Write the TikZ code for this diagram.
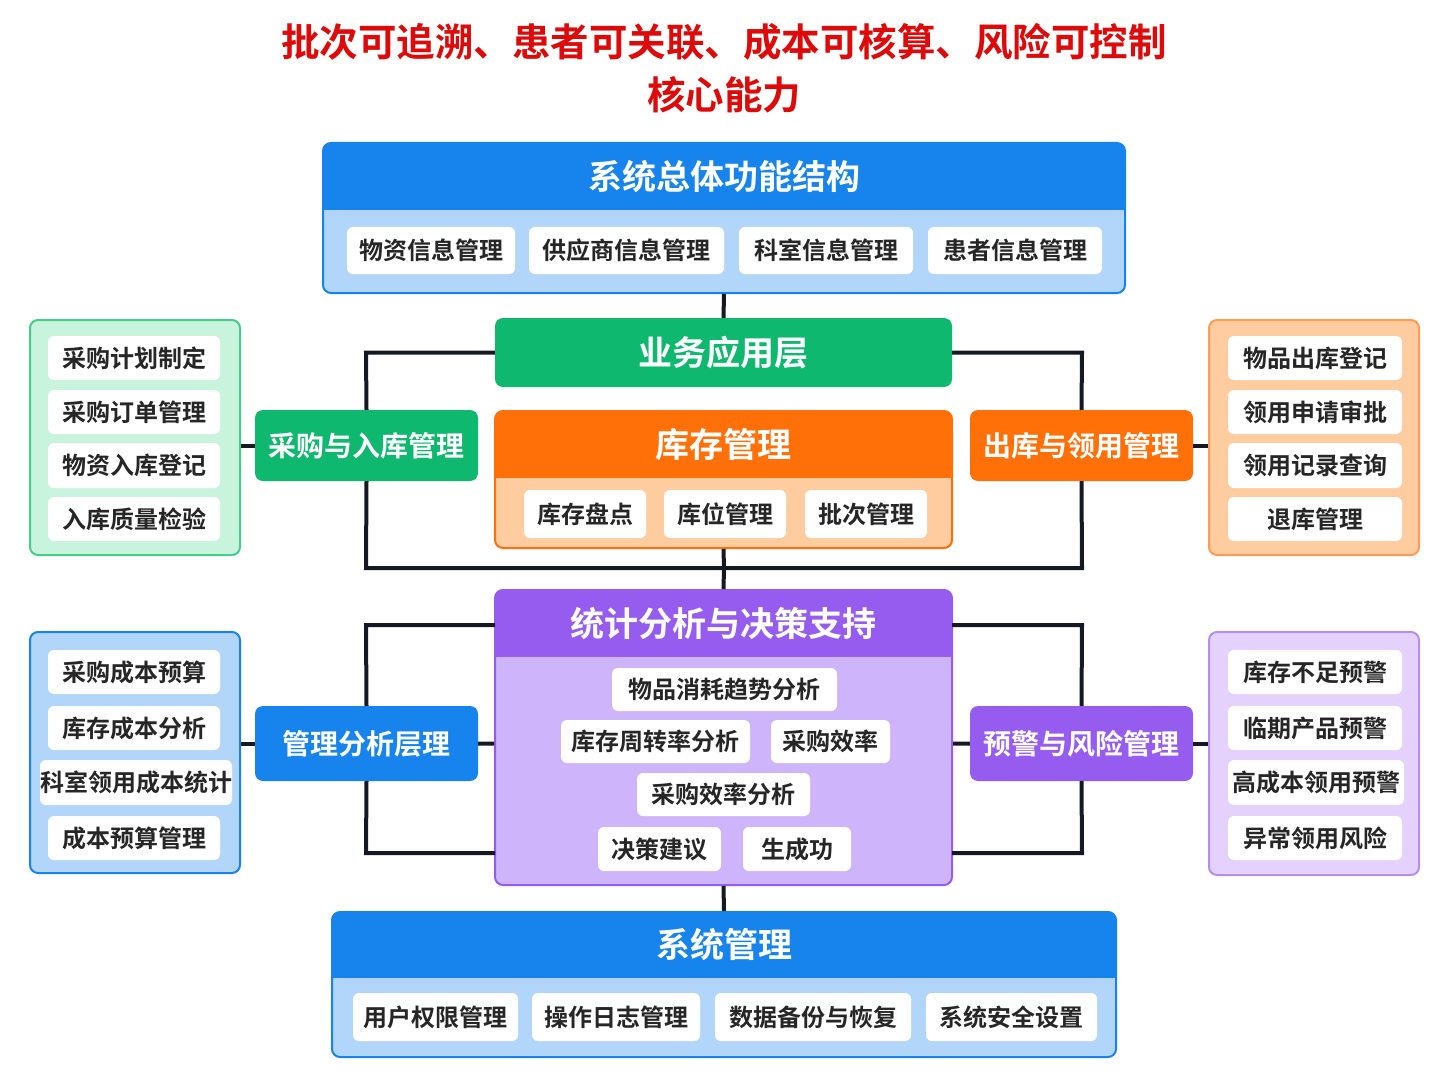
\documentclass[tikz,border=0pt]{standalone}
\usepackage{fontspec}
\setmainfont{Noto Sans CJK SC}[BoldFont={Noto Sans CJK SC Bold}]
\definecolor{tred}{RGB}{222,10,10}
\definecolor{bD}{RGB}{22,132,236}\definecolor{bL}{RGB}{178,214,250}
\definecolor{gD}{RGB}{14,184,110}\definecolor{gL}{RGB}{200,244,222}\definecolor{gB}{RGB}{70,205,140}
\definecolor{oD}{RGB}{255,112,8}\definecolor{oL}{RGB}{255,204,160}
\definecolor{pD}{RGB}{150,92,240}\definecolor{pL}{RGB}{206,180,250}\definecolor{pLL}{RGB}{228,210,252}
\definecolor{lineK}{RGB}{20,25,35}
\newcommand\panel[9]{%
 \begin{scope}\clip[rounded corners=8] (#2,#3) rectangle (#4,#5);
 \fill[#8] (#2,#3) rectangle (#4,#5);
 \fill[#7] (#2,#3) rectangle (#4,#6);\end{scope}
 \node[draw=#7,line width=2,rounded corners=8,minimum width={#4-#2},minimum height={#5-#3},inner sep=0] (#1) at ({(#2+#4)/2},{(#3+#5)/2}) {};
 \node[hd] (#1h) at ({(#2+#4)/2},{(#3+#6)/2}) {#9};}
\newcommand\cell[6]{\node[cell,minimum width={#4-#2},minimum height={#5-#3}] (#1) at ({(#2+#4)/2},{(#3+#5)/2}) {#6};}
\newcommand\lab[7]{\node[lab,fill=#6,minimum width={#4-#2},minimum height={#5-#3}] (#1) at ({(#2+#4)/2},{(#3+#5)/2}) {#7};}
\newcommand\lst[7]{\node[draw=#6,line width=2,fill=#7,rounded corners=8,minimum width={#4-#2},minimum height={#5-#3},inner sep=0] (#1) at ({(#2+#4)/2},{(#3+#5)/2}) {};}
\begin{document}
\begin{tikzpicture}[x=1pt,y=-1pt,
 hd/.style={text=white,font=\bfseries\fontsize{34}{36}\selectfont},
 cell/.style={fill=white,rounded corners=6,inner sep=0,font=\bfseries\fontsize{24}{26}\selectfont,text=black!85},
 lab/.style={rounded corners=8,inner sep=0,text=white,font=\bfseries\fontsize{28}{30}\selectfont},
 conn/.style={draw=lineK,line width=4}]
\useasboundingbox (0,0) rectangle (1448,1086);
\node[text=tred,font=\bfseries\fontsize{38.5}{40}\selectfont] (t1) at (724,42) {批次可追溯、患者可关联、成本可核算、风险可控制};
\node[text=tred,font=\bfseries\fontsize{38.5}{40}\selectfont] (t2) at (724,95) {核心能力};
\coordinate (a1) at (366,352.5);\coordinate (a2) at (366,568);\coordinate (a3) at (1082,568);\coordinate (a4) at (1082,352.5);
\coordinate (b1) at (366,625);\coordinate (b2) at (366,853);\coordinate (b3) at (1082,853);\coordinate (b4) at (1082,625);
\coordinate (c1) at (495,625);\coordinate (c2) at (495,853);\coordinate (c3) at (952,853);\coordinate (c4) at (952,625);
\coordinate (m1) at (724,568);
\panel{top}{323}{143}{1125}{293}{210}{bD}{bL}{系统总体功能结构}
\panel{inv}{495}{411}{952}{548}{478}{oD}{oL}{库存管理}
\panel{sta}{495}{590}{952}{885}{657}{pD}{pL}{统计分析与决策支持}
\panel{sys}{332}{912}{1116}{1057}{978}{bD}{bL}{系统管理}
\node[fill=gD,rounded corners=8,minimum width=457,minimum height=69,inner sep=0,hd] (biz) at (723.5,352.5) {业务应用层};
\lab{plab}{255}{410}{478}{481}{gD}{采购与入库管理}
\lab{olab}{970}{410}{1193}{481}{oD}{出库与领用管理}
\lab{mlab}{255}{706}{478}{781}{bD}{管理分析层理}
\lab{wlab}{970}{706}{1193}{781}{pD}{预警与风险管理}
\path[conn] (top.south) -- (biz.north);
\path[conn] (biz.west) -- (a1) -- (plab.north) (plab.south) -- (a2) -- (a3) -- (olab.south) (olab.north) -- (a4) -- (biz.east);
\path[conn] (inv.south) -- (m1) -- (sta.north);
\path[conn] (c1) -- (b1) -- (mlab.north) (mlab.south) -- (b2) -- (c2);
\path[conn] (c4) -- (b4) -- (wlab.north) (wlab.south) -- (b3) -- (c3);
\path[conn] (mlab.east) -- (mlab.east -| sta.west) (wlab.west) -- (wlab.west -| sta.east) (sta.south) -- (sys.north);
\cell{t1c}{347}{227}{515}{274}{物资信息管理}
\cell{t2c}{529}{227}{724}{274}{供应商信息管理}
\cell{t3c}{739}{227}{913}{274}{科室信息管理}
\cell{t4c}{928}{227}{1102}{274}{患者信息管理}
\cell{i1}{524}{490}{646}{538}{库存盘点}
\cell{i2}{664}{490}{786}{538}{库位管理}
\cell{i3}{805}{490}{927}{538}{批次管理}
\lst{pl}{30}{320}{240}{555}{gB}{gL}
\lst{ol}{1209}{320}{1419}{555}{oD!70}{oL}
\lst{ml}{30}{632}{240}{873}{bD}{bL}
\lst{wl}{1209}{632}{1419}{875}{pD!70}{pLL}
\path[conn] (pl.east|-plab.west) -- (plab.west) (olab.east) -- (ol.west|-olab.east);
\path[conn] (ml.east|-mlab.west) -- (mlab.west) (wlab.east) -- (wl.west|-wlab.east);
\cell{p1}{48}{336}{220}{380}{采购计划制定}
\cell{p2}{48}{390}{220}{434}{采购订单管理}
\cell{p3}{48}{443}{220}{488}{物资入库登记}
\cell{p4}{48}{497}{220}{541}{入库质量检验}
\cell{o1}{1228}{336}{1402}{380}{物品出库登记}
\cell{o2}{1228}{390}{1402}{434}{领用申请审批}
\cell{o3}{1228}{443}{1402}{488}{领用记录查询}
\cell{o4}{1228}{497}{1402}{541}{退库管理}
\cell{m1c}{48}{650}{220}{694}{采购成本预算}
\cell{m2c}{48}{706}{220}{750}{库存成本分析}
\cell{m3c}{42}{760}{230}{805}{科室领用成本统计}
\cell{m4c}{48}{816}{220}{860}{成本预算管理}
\cell{w1}{1228}{650}{1402}{694}{库存不足预警}
\cell{w2}{1228}{706}{1402}{750}{临期产品预警}
\cell{w3}{1228}{760}{1404}{805}{高成本领用预警}
\cell{w4}{1228}{816}{1402}{860}{异常领用风险}
\cell{s1}{612}{668}{837}{711}{物品消耗趋势分析}
\cell{s2}{561}{720}{750}{763}{库存周转率分析}
\cell{s3}{771}{720}{890}{763}{采购效率}
\cell{s4}{637}{773}{810}{816}{采购效率分析}
\cell{s5}{598}{827}{721}{871}{决策建议}
\cell{s6}{743}{827}{851}{871}{生成功}
\cell{y1}{353}{993}{518}{1041}{用户权限管理}
\cell{y2}{532}{993}{700}{1041}{操作日志管理}
\cell{y3}{715}{993}{911}{1041}{数据备份与恢复}
\cell{y4}{926}{993}{1097}{1041}{系统安全设置}
\end{tikzpicture}
\end{document}
